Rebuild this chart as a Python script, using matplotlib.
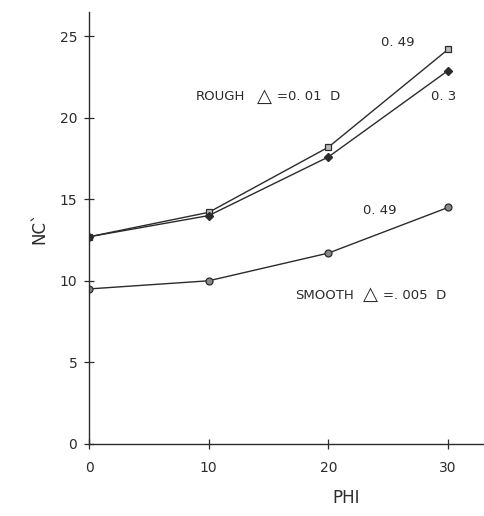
import matplotlib
matplotlib.use("Agg")
import matplotlib.pyplot as plt

# values
phi = [0, 10, 20, 30]
rough_049 = [12.7, 14.2, 18.2, 24.2]
rough_03 = [12.7, 14.0, 17.6, 22.9]
smooth_049 = [9.5, 10.0, 11.7, 14.5]

xticks = [0, 10, 20, 30]
yticks = [0, 5, 10, 15, 20, 25]

plt.rcParams['font.family'] = 'DejaVu Sans'

fig = plt.figure(figsize=(4.84, 5.16), dpi=100)
ax = fig.add_axes([0.184, 0.14, 0.816, 0.837])

ink = '#2b2b2b'
ax.plot(phi, rough_049, color=ink, lw=1.0, marker='s', ms=5,
        mfc='#bbbbbb', mec=ink, mew=0.9)
ax.plot(phi, rough_03, color=ink, lw=1.0, marker='D', ms=4,
        mfc=ink, mec=ink)
ax.plot(phi, smooth_049, color=ink, lw=1.0, marker='o', ms=5,
        mfc='#888888', mec=ink, mew=0.9)

ax.set_xlim(0, 33)
ax.set_ylim(0, 26.5)
ax.set_xticks(xticks)
ax.set_yticks(yticks)
ax.tick_params(direction='inout', length=7, width=0.9, colors=ink,
               labelsize=10, pad=5)
ax.tick_params(axis='x', pad=9)
for side in ['top', 'right']:
    ax.spines[side].set_visible(False)
for side in ['left', 'bottom']:
    ax.spines[side].set_color(ink)
    ax.spines[side].set_linewidth(1.0)

ax.set_ylabel("NC`", fontsize=12, color=ink, labelpad=8)
ax.set_xlabel("PHI", fontsize=12, color=ink)
ax.xaxis.set_label_coords(0.65, -0.105)

fs = 9.5
ax.text(8.9, 21.1, "ROUGH", fontsize=fs, color=ink)
ax.text(14.0, 21.0, "\u25B3", fontsize=14, color=ink)
ax.text(15.7, 21.1, "=0. 01  D", fontsize=fs, color=ink)
ax.text(24.4, 24.4, "0. 49", fontsize=fs, color=ink)
ax.text(28.6, 21.1, "0. 3", fontsize=fs, color=ink)
ax.text(22.9, 14.1, "0. 49", fontsize=fs, color=ink)
ax.text(17.2, 8.9, "SMOOTH", fontsize=fs, color=ink)
ax.text(22.9, 8.8, "\u25B3", fontsize=14, color=ink)
ax.text(24.6, 8.9, "=. 005  D", fontsize=fs, color=ink)

fig.savefig("out.png", dpi=100)
